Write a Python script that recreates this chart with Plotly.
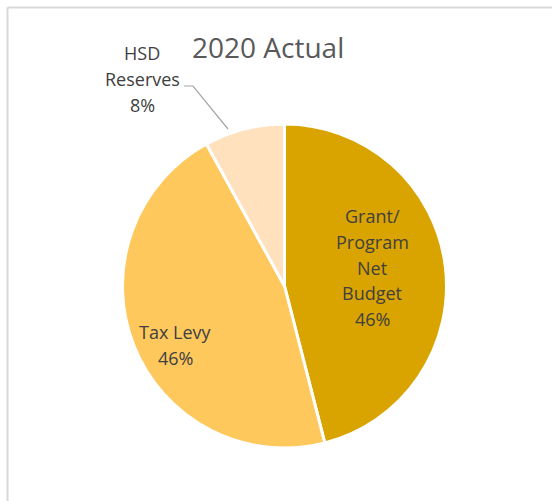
import plotly.graph_objects as go

# Funding sources for 2020
labels = ["Grant/ Program Net Budget", "Tax Levy", "HSD Reserves"]
label_lines = [["Grant/", "Program", "Net", "Budget"], ["Tax Levy"], ["HSD", "Reserves"]]
values = [46, 46, 8]
colors = ["#DAA400", "#FFC85C", "#FFE1BE"]
title_text = "2020 Actual"

W, H = 552, 501
TEXT_COLOR = "#404040"
FONT = "Open Sans"


def px(x, y):
    """Convert pixel coordinates to paper coordinates."""
    return x / W, 1 - y / H


# pie placement (pixels): centre and radius
cx, cy, r = 284.5, 286, 162
x0, y1 = px(cx - r, cy - r)
x1, y0 = px(cx + r, cy + r)

fig = go.Figure(
    go.Pie(
        labels=labels,
        values=values,
        sort=False,
        direction="clockwise",
        rotation=0,
        marker=dict(colors=colors, line=dict(color="white", width=3)),
        textinfo="none",
        hoverinfo="label+percent",
        domain=dict(x=[x0, x1], y=[y0, y1]),
        showlegend=False,
    )
)

total = sum(values)
# label anchor (pixels) for each slice: centre x, first-line y
anchors = [(372, 216), (176, 332), (142, 53)]
spacing = 25.8

annotations = []
for lines, v, (ax, ay) in zip(label_lines, values, anchors):
    pct = f"{v / total * 100:.0f}%"
    for i, t in enumerate(lines + [pct]):
        xp, yp = px(ax, ay + i * spacing)
        annotations.append(
            dict(x=xp, y=yp, xref="paper", yref="paper", text=t, showarrow=False,
                 xanchor="center", yanchor="middle",
                 font=dict(family=FONT, size=18, color=TEXT_COLOR))
        )

tx, ty = px(268, 47)
annotations.append(
    dict(x=tx, y=ty, xref="paper", yref="paper", text=title_text, showarrow=False,
         xanchor="center", yanchor="middle",
         font=dict(family=FONT, size=28, color="#595959"))
)

# leader line for the small slice
pts = [px(184, 86), px(193, 86), px(228, 129)]
path = "M " + " L ".join(f"{a},{b}" for a, b in pts)

# chart frame (top and left edges visible)
fx0, fy0 = px(7.5, 7.5)
shapes = [
    dict(type="path", path=path, xref="paper", yref="paper",
         line=dict(color="#A6A6A6", width=1.2)),
    dict(type="line", xref="paper", yref="paper", x0=fx0, y0=fy0, x1=1.02, y1=fy0,
         line=dict(color="#D9D9D9", width=2)),
    dict(type="line", xref="paper", yref="paper", x0=fx0, y0=fy0, x1=fx0, y1=-0.02,
         line=dict(color="#D9D9D9", width=2)),
]

fig.update_layout(
    width=W,
    height=H,
    margin=dict(l=0, r=0, t=0, b=0),
    paper_bgcolor="white",
    plot_bgcolor="white",
    annotations=annotations,
    shapes=shapes,
)

fig.write_html("out.html")
